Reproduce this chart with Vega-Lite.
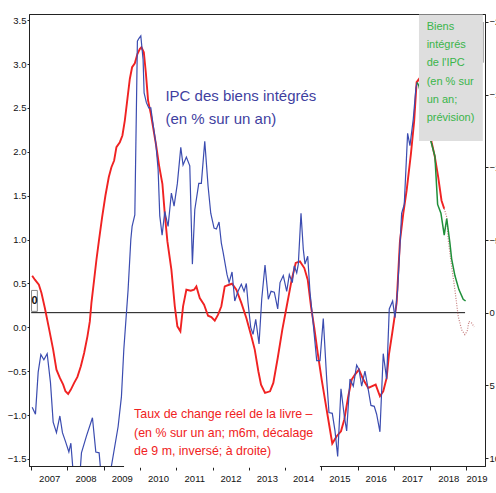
{
  "$schema": "https://vega.github.io/schema/vega-lite/v6.json",
  "width": 456,
  "height": 452,
  "autosize": {"type": "none"},
  "padding": {"left": 29, "top": 14, "right": 11, "bottom": 27},
  "background": "white",
  "config": {
    "view": {"stroke": "#222", "strokeWidth": 1},
    "axis": {"grid": false, "title": null, "labelFont": "Liberation Sans", "labelColor": "#111", "domainColor": "#222", "tickColor": "#222", "labelFontSize": 9.5}
  },
  "datasets": {
    "blue": [
      {"t":2007.028,"v":-0.91},{"t":2007.118,"v":-0.99},{"t":2007.193,"v":-0.51},{"t":2007.267,"v":-0.31},{"t":2007.350,"v":-0.37},{"t":2007.441,"v":-0.30},{"t":2007.532,"v":-0.63},{"t":2007.606,"v":-1.08},{"t":2007.697,"v":-1.20},{"t":2007.791,"v":-1.01},{"t":2007.862,"v":-1.20},{"t":2007.945,"v":-1.30},{"t":2008.039,"v":-1.42},{"t":2008.094,"v":-1.32},{"t":2008.157,"v":-1.65},{"t":2008.240,"v":-1.80},{"t":2008.322,"v":-1.80},{"t":2008.386,"v":-1.43},{"t":2008.523,"v":-1.24},{"t":2008.689,"v":-1.03},{"t":2008.782,"v":-1.42},{"t":2008.873,"v":-1.43},{"t":2008.920,"v":-1.65},{"t":2009.011,"v":-1.80},{"t":2009.094,"v":-1.80},{"t":2009.196,"v":-1.62},{"t":2009.397,"v":-1.13},{"t":2009.488,"v":-0.79},{"t":2009.554,"v":-0.25},{"t":2009.672,"v":0.43},{"t":2009.747,"v":1.00},{"t":2009.782,"v":1.15},{"t":2009.857,"v":1.28},{"t":2009.928,"v":3.26},{"t":2009.967,"v":3.29},{"t":2010.022,"v":3.32},{"t":2010.085,"v":3.05},{"t":2010.113,"v":2.67},{"t":2010.176,"v":2.56},{"t":2010.242,"v":2.50},{"t":2010.298,"v":2.50},{"t":2010.361,"v":2.31},{"t":2010.435,"v":2.10},{"t":2010.499,"v":1.80},{"t":2010.545,"v":1.27},{"t":2010.609,"v":1.05},{"t":2010.683,"v":1.32},{"t":2010.774,"v":1.15},{"t":2010.865,"v":1.53},{"t":2010.939,"v":1.38},{"t":2011.030,"v":1.64},{"t":2011.124,"v":2.05},{"t":2011.187,"v":1.85},{"t":2011.278,"v":1.94},{"t":2011.372,"v":1.84},{"t":2011.444,"v":0.72},{"t":2011.510,"v":1.34},{"t":2011.620,"v":1.64},{"t":2011.691,"v":1.64},{"t":2011.785,"v":2.12},{"t":2011.876,"v":1.61},{"t":2011.950,"v":1.30},{"t":2012.041,"v":1.13},{"t":2012.105,"v":1.12},{"t":2012.179,"v":1.20},{"t":2012.242,"v":0.96},{"t":2012.289,"v":0.86},{"t":2012.399,"v":0.60},{"t":2012.455,"v":0.51},{"t":2012.537,"v":0.63},{"t":2012.612,"v":0.30},{"t":2012.702,"v":0.41},{"t":2012.793,"v":0.49},{"t":2012.868,"v":0.41},{"t":2012.931,"v":0.50},{"t":2012.978,"v":0.28},{"t":2013.052,"v":0.00},{"t":2013.116,"v":-0.08},{"t":2013.190,"v":0.09},{"t":2013.281,"v":-0.19},{"t":2013.355,"v":0.32},{"t":2013.446,"v":0.71},{"t":2013.537,"v":0.32},{"t":2013.612,"v":0.41},{"t":2013.702,"v":0.40},{"t":2013.796,"v":0.21},{"t":2013.860,"v":0.51},{"t":2013.950,"v":0.59},{"t":2014.044,"v":0.41},{"t":2014.116,"v":0.60},{"t":2014.198,"v":0.51},{"t":2014.253,"v":0.70},{"t":2014.320,"v":0.62},{"t":2014.364,"v":0.72},{"t":2014.438,"v":1.30},{"t":2014.501,"v":0.89},{"t":2014.548,"v":0.72},{"t":2014.623,"v":0.81},{"t":2014.686,"v":0.40},{"t":2014.777,"v":0.03},{"t":2014.871,"v":-0.38},{"t":2014.961,"v":-0.38},{"t":2015.052,"v":0.10},{"t":2015.146,"v":-0.59},{"t":2015.209,"v":-0.97},{"t":2015.300,"v":-0.98},{"t":2015.375,"v":-1.18},{"t":2015.449,"v":-1.47},{"t":2015.540,"v":-0.70},{"t":2015.631,"v":-1.01},{"t":2015.697,"v":-1.18},{"t":2015.788,"v":-0.59},{"t":2015.879,"v":-0.67},{"t":2015.972,"v":-0.43},{"t":2016.036,"v":-0.48},{"t":2016.110,"v":-0.67},{"t":2016.201,"v":-0.50},{"t":2016.292,"v":-0.71},{"t":2016.366,"v":-0.89},{"t":2016.457,"v":-0.90},{"t":2016.523,"v":-0.99},{"t":2016.614,"v":-1.19},{"t":2016.705,"v":-0.30},{"t":2016.799,"v":-0.59},{"t":2016.871,"v":0.21},{"t":2016.964,"v":0.30},{"t":2017.028,"v":0.11},{"t":2017.102,"v":0.43},{"t":2017.212,"v":1.30},{"t":2017.284,"v":1.40},{"t":2017.377,"v":2.21},{"t":2017.441,"v":2.07},{"t":2017.532,"v":2.37},{"t":2017.606,"v":2.73},{"t":2017.642,"v":2.79}
    ],
    "green": [
      {"t":2017.642,"v":2.79},{"t":2017.689,"v":2.75},{"t":2017.826,"v":2.50},{"t":2017.937,"v":2.30},{"t":2018.019,"v":2.12},{"t":2018.129,"v":1.95},{"t":2018.204,"v":1.40},{"t":2018.295,"v":1.30},{"t":2018.386,"v":1.05},{"t":2018.455,"v":1.24},{"t":2018.543,"v":0.96},{"t":2018.590,"v":0.78},{"t":2018.680,"v":0.59},{"t":2018.791,"v":0.43},{"t":2018.909,"v":0.32},{"t":2018.975,"v":0.30}
    ],
    "red": [
      {"t":2007.028,"r":-2.54},{"t":2007.102,"r":-2.27},{"t":2007.212,"r":-1.92},{"t":2007.284,"r":-1.35},{"t":2007.377,"r":-0.32},{"t":2007.488,"r":1.05},{"t":2007.606,"r":2.54},{"t":2007.697,"r":3.92},{"t":2007.791,"r":4.49},{"t":2007.882,"r":4.95},{"t":2007.945,"r":5.41},{"t":2008.019,"r":5.59},{"t":2008.094,"r":5.29},{"t":2008.185,"r":4.83},{"t":2008.275,"r":4.42},{"t":2008.369,"r":3.69},{"t":2008.460,"r":2.77},{"t":2008.551,"r":1.63},{"t":2008.617,"r":0.60},{"t":2008.661,"r":-0.67},{"t":2008.736,"r":-2.27},{"t":2008.799,"r":-3.64},{"t":2008.865,"r":-4.90},{"t":2008.956,"r":-6.58},{"t":2009.047,"r":-8.06},{"t":2009.140,"r":-9.33},{"t":2009.212,"r":-10.01},{"t":2009.287,"r":-10.47},{"t":2009.350,"r":-11.39},{"t":2009.444,"r":-11.73},{"t":2009.515,"r":-12.19},{"t":2009.581,"r":-13.22},{"t":2009.653,"r":-14.71},{"t":2009.719,"r":-16.08},{"t":2009.782,"r":-16.89},{"t":2009.857,"r":-17.16},{"t":2009.928,"r":-17.80},{"t":2009.994,"r":-18.14},{"t":2010.039,"r":-18.26},{"t":2010.105,"r":-17.92},{"t":2010.160,"r":-16.54},{"t":2010.223,"r":-14.59},{"t":2010.298,"r":-13.68},{"t":2010.361,"r":-12.76},{"t":2010.452,"r":-11.39},{"t":2010.526,"r":-10.12},{"t":2010.617,"r":-8.87},{"t":2010.683,"r":-6.80},{"t":2010.755,"r":-4.90},{"t":2010.865,"r":-2.96},{"t":2010.959,"r":-0.44},{"t":2011.030,"r":0.94},{"t":2011.113,"r":1.28},{"t":2011.187,"r":-0.44},{"t":2011.278,"r":-1.58},{"t":2011.399,"r":-1.51},{"t":2011.490,"r":-1.58},{"t":2011.554,"r":-1.81},{"t":2011.647,"r":-1.01},{"t":2011.766,"r":-0.55},{"t":2011.876,"r":0.21},{"t":2011.967,"r":0.30},{"t":2012.061,"r":0.55},{"t":2012.152,"r":0.14},{"t":2012.242,"r":-0.44},{"t":2012.336,"r":-1.81},{"t":2012.455,"r":-1.92},{"t":2012.537,"r":-1.99},{"t":2012.656,"r":-1.58},{"t":2012.793,"r":-0.67},{"t":2012.931,"r":0.37},{"t":2013.069,"r":1.63},{"t":2013.163,"r":2.54},{"t":2013.262,"r":4.03},{"t":2013.336,"r":4.95},{"t":2013.446,"r":5.52},{"t":2013.584,"r":5.41},{"t":2013.675,"r":4.83},{"t":2013.796,"r":3.12},{"t":2013.923,"r":1.17},{"t":2014.044,"r":-0.44},{"t":2014.182,"r":-2.27},{"t":2014.292,"r":-3.42},{"t":2014.410,"r":-3.53},{"t":2014.529,"r":-3.07},{"t":2014.623,"r":-2.27},{"t":2014.713,"r":-0.44},{"t":2014.804,"r":1.05},{"t":2014.898,"r":2.77},{"t":2015.008,"r":4.60},{"t":2015.099,"r":5.98},{"t":2015.190,"r":7.35},{"t":2015.300,"r":9.00},{"t":2015.421,"r":8.50},{"t":2015.540,"r":8.16},{"t":2015.631,"r":7.35},{"t":2015.741,"r":5.75},{"t":2015.835,"r":4.60},{"t":2015.926,"r":4.26},{"t":2016.036,"r":3.92},{"t":2016.154,"r":4.60},{"t":2016.292,"r":5.18},{"t":2016.386,"r":5.07},{"t":2016.496,"r":4.95},{"t":2016.614,"r":5.75},{"t":2016.705,"r":5.41},{"t":2016.799,"r":4.49},{"t":2016.862,"r":2.89},{"t":2016.953,"r":1.40},{"t":2017.074,"r":-0.67},{"t":2017.165,"r":-4.90},{"t":2017.256,"r":-6.80},{"t":2017.350,"r":-8.41},{"t":2017.468,"r":-10.93},{"t":2017.559,"r":-13.22},{"t":2017.625,"r":-15.86},{"t":2017.689,"r":-16.08},{"t":2017.826,"r":-15.0},{"t":2017.937,"r":-13.2},{"t":2018.039,"r":-11.73},{"t":2018.129,"r":-10.70},{"t":2018.220,"r":-9.33},{"t":2018.311,"r":-7.72},{"t":2018.386,"r":-7.15}
    ],
    "redf": [
      {"t":2018.386,"r":-7.15},{"t":2018.455,"r":-6.58},{"t":2018.496,"r":-5.02},{"t":2018.590,"r":-3.18},{"t":2018.680,"r":-1.58},{"t":2018.771,"r":0.25},{"t":2018.865,"r":1.17},{"t":2018.956,"r":1.51},{"t":2019.019,"r":1.28},{"t":2019.066,"r":0.60},{"t":2019.140,"r":0.71},{"t":2019.212,"r":0.98}
    ],
    "zero": [{"t":2007.0,"t2":2018.96,"r":0}],
    "zbox": [{"t":2007.01,"t2":2007.17,"r":-1.53,"r2":-0.09}],
    "ztext": [{"t":2007.09,"r":-0.82,"label":"0"}],
    "bracket": [{"t":2019.46,"r":-20.0,"r2":-17.2}],
    "wbox": [{"t":2009.56,"t2":2014.96,"v":-0.82,"v2":-1.6}],
    "graybox": [{"t":2017.69,"t2":2019.45,"v":3.565,"v2":2.123}],
    "bluetxt": [
      {"t":2010.70,"v":2.634,"label":"IPC des biens intégrés"},
      {"t":2010.70,"v":2.374,"label":"(en % sur un an)"}
    ],
    "redtxt": [
      {"t":2009.837,"v":-0.982,"label":"Taux de change réel de la livre –"},
      {"t":2009.837,"v":-1.202,"label":"(en % sur un an; m6m, décalage"},
      {"t":2009.837,"v":-1.412,"label":"de 9 m, inversé; à droite)"}
    ],
    "greentxt": [
      {"t":2017.901,"v":3.425,"label":"Biens"},
      {"t":2017.901,"v":3.216,"label":"intégrés"},
      {"t":2017.901,"v":3.014,"label":"de l'IPC"},
      {"t":2017.901,"v":2.797,"label":"(en % sur"},
      {"t":2017.901,"v":2.588,"label":"un an;"},
      {"t":2017.901,"v":2.386,"label":"prévision)"}
    ]
  },
  "encoding": {
    "x": {
      "field": "t", "type": "quantitative",
      "scale": {"domain": [2006.94, 2019.51], "nice": false, "zero": false},
      "axis": {
        "values": [2007,2008,2009,2010,2011,2012,2013,2014,2015,2016,2017,2018,2019],
        "format": "d", "tickSize": 4, "labelPadding": 3, "labelFlush": false, "labelOverlap": false,
        "labelOffset": {"condition": {"test": "datum.value == 2019", "value": 10}, "value": 18}
      }
    }
  },
  "layer": [
    {
      "encoding": {
        "y": {
          "field": "r", "type": "quantitative",
          "scale": {"domain": [-20.55, 10.55], "reverse": true, "nice": false, "zero": false},
          "axis": {"orient": "right", "values": [-20,-15,-10,-5,0,5,10], "tickSize": 3, "labelPadding": 1}
        }
      },
      "layer": [
        {"data": {"name": "zero"}, "mark": {"type": "rule", "color": "#111", "strokeWidth": 1}, "encoding": {"x2": {"field": "t2"}}},
        {"data": {"name": "red"}, "mark": {"type": "line", "color": "#f02222", "strokeWidth": 1.9}},
        {"data": {"name": "redf"}, "mark": {"type": "line", "color": "#c47a7a", "strokeWidth": 1.2, "strokeDash": [1, 1.5]}},
        {"data": {"name": "zbox"}, "mark": {"type": "rect", "fill": "white", "stroke": "#888", "strokeWidth": 1}, "encoding": {"x2": {"field": "t2"}, "y2": {"field": "r2"}}},
        {"data": {"name": "ztext"}, "mark": {"type": "text", "font": "Liberation Sans", "fontSize": 11, "fontWeight": "bold", "color": "#111", "align": "center", "baseline": "middle"}, "encoding": {"text": {"field": "label"}}},
        {"data": {"name": "bracket"}, "mark": {"type": "rule", "color": "#888", "strokeWidth": 1}, "encoding": {"y2": {"field": "r2"}}}
      ]
    },
    {
      "encoding": {
        "y": {
          "field": "v", "type": "quantitative",
          "scale": {"domain": [-1.58, 3.57], "nice": false, "zero": false},
          "axis": {"orient": "left", "values": [-1.5,-1,-0.5,0,0.5,1,1.5,2,2.5,3,3.5], "format": ".1f", "tickSize": 2, "labelPadding": 1}
        }
      },
      "layer": [
        {"data": {"name": "blue"}, "mark": {"type": "line", "color": "#3b4cb0", "strokeWidth": 1.2, "clip": true}},
        {"data": {"name": "green"}, "mark": {"type": "line", "color": "#1f8f3a", "strokeWidth": 1.5}},
        {"data": {"name": "wbox"}, "mark": {"type": "rect", "fill": "white", "clip": false}, "encoding": {"x2": {"field": "t2"}, "y2": {"field": "v2"}}},
        {"data": {"name": "bluetxt"}, "mark": {"type": "text", "font": "Liberation Sans", "fontSize": 15, "color": "#3f3f9f", "align": "left", "baseline": "middle"}, "encoding": {"text": {"field": "label"}}},
        {"data": {"name": "redtxt"}, "mark": {"type": "text", "font": "Liberation Sans", "fontSize": 12.4, "color": "#f02222", "align": "left", "baseline": "middle"}, "encoding": {"text": {"field": "label"}}},
        {"data": {"name": "graybox"}, "mark": {"type": "rect", "fill": "#dedede"}, "encoding": {"x2": {"field": "t2"}, "y2": {"field": "v2"}}},
        {"data": {"name": "greentxt"}, "mark": {"type": "text", "font": "Liberation Sans", "fontSize": 11, "color": "#3ab54a", "align": "left", "baseline": "middle"}, "encoding": {"text": {"field": "label"}}}
      ]
    }
  ],
  "resolve": {"scale": {"y": "independent"}, "axis": {"y": "independent"}}
}
